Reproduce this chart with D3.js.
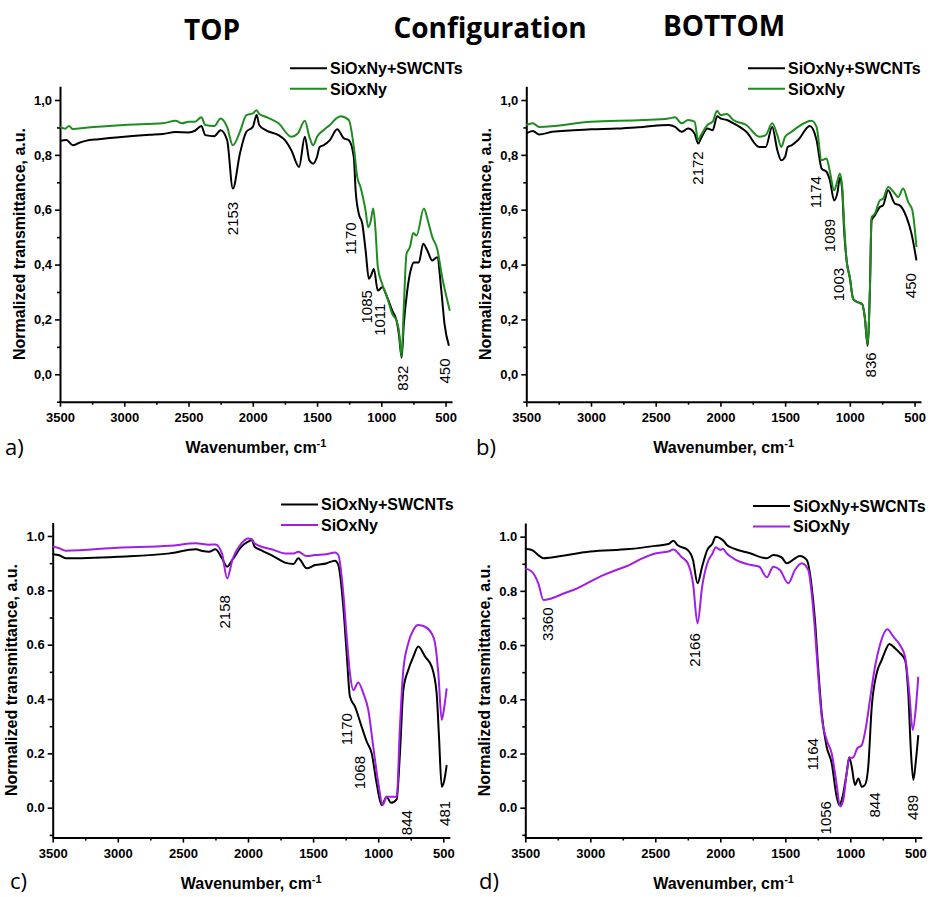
<!DOCTYPE html>
<html lang="en">
<head>
<meta charset="UTF-8">
<title>FTIR spectra, TOP / BOTTOM configuration</title>
<script src="https://cdnjs.cloudflare.com/ajax/libs/d3/7.8.5/d3.min.js"></script>
<style>
    body { margin: 0; background: #fff; }
    svg { display: block; font-family: "Liberation Sans", Arial, sans-serif; }
    .axis .domain { stroke: #000; stroke-width: 2px; }
    .axis line { stroke: #000; stroke-width: 1.6px; }
    .axis text { font-size: 13px; font-weight: bold; fill: #000; }
    .heading { font-family: "Open Sans", sans-serif; font-weight: bold; font-size: 28px; }
    .letter { font-family: "Open Sans", sans-serif; font-size: 22px; }
    .axis-title { font-size: 16px; font-weight: bold; }
    .legend text { font-size: 16px; font-weight: bold; }
    .peak { font-size: 15px; }
</style>
</head>
<body>
<svg id="chart" width="933" height="897"></svg>
<script>
    // ---- data ----
    const headings = ["TOP", "Configuration", "BOTTOM"];
    const seriesNames = ["SiOxNy+SWCNTs", "SiOxNy"];
    const panelLetters = ["a)", "b)", "c)", "d)"];
    const majorX = [3500, 3000, 2500, 2000, 1500, 1000, 500];
    const minorX = [3250, 2750, 2250, 1750, 1250, 750];
    const majorY = [0, 0.2, 0.4, 0.6, 0.8, 1.0];
    const minorY = [-0.1, 0.1, 0.3, 0.5, 0.7, 0.9];

    // spectra: [wavenumber cm-1, normalized transmittance]
    const topCompositeA = [[3500,0.851],[3450,0.854],[3400,0.835],[3350,0.844],[3300,0.851],[3200,0.857],[3000,0.866],[2800,0.873],[2700,0.876],[2600,0.883],[2500,0.882],[2450,0.888],[2400,0.905],[2370,0.872],[2300,0.868],[2250,0.890],[2200,0.854],[2155,0.677],[2100,0.805],[2050,0.884],[2000,0.902],[1970,0.945],[1950,0.909],[1900,0.890],[1800,0.872],[1750,0.854],[1700,0.817],[1640,0.756],[1595,0.866],[1560,0.780],[1530,0.768],[1500,0.793],[1480,0.829],[1450,0.835],[1400,0.854],[1343,0.893],[1291,0.860],[1253,0.854],[1214,0.792],[1200,0.671],[1175,0.585],[1148,0.549],[1122,0.451],[1097,0.348],[1080,0.360],[1058,0.384],[1027,0.305],[993,0.317],[954,0.280],[915,0.232],[881,0.195],[863,0.146],[842,0.061],[825,0.183],[798,0.305],[772,0.378],[747,0.408],[708,0.408],[674,0.476],[642,0.451],[603,0.415],[565,0.427],[533,0.305],[508,0.183],[474,0.104]];
    const topFilmA = [[3500,0.902],[3460,0.895],[3430,0.905],[3400,0.894],[3300,0.899],[3000,0.909],[2700,0.915],[2600,0.924],[2550,0.915],[2500,0.921],[2450,0.921],[2400,0.937],[2370,0.909],[2300,0.905],[2250,0.933],[2200,0.902],[2155,0.835],[2100,0.884],[2050,0.945],[2000,0.951],[1970,0.963],[1950,0.949],[1900,0.939],[1800,0.915],[1700,0.866],[1650,0.878],[1595,0.924],[1560,0.866],[1530,0.835],[1500,0.866],[1450,0.890],[1400,0.909],[1350,0.933],[1317,0.941],[1253,0.927],[1214,0.829],[1187,0.719],[1162,0.683],[1123,0.598],[1102,0.536],[1084,0.555],[1063,0.604],[1045,0.524],[1027,0.390],[993,0.329],[954,0.280],[915,0.220],[881,0.195],[863,0.159],[842,0.067],[825,0.244],[804,0.439],[778,0.463],[751,0.515],[726,0.506],[669,0.604],[638,0.561],[603,0.500],[565,0.457],[526,0.353],[467,0.232]];

    const bottomCompositeB = [[3500,0.878],[3450,0.887],[3400,0.874],[3300,0.884],[3000,0.893],[2800,0.896],[2600,0.902],[2400,0.909],[2350,0.902],[2300,0.884],[2250,0.896],[2200,0.878],[2172,0.841],[2150,0.860],[2100,0.896],[2060,0.890],[2025,0.941],[2000,0.933],[1950,0.927],[1900,0.915],[1800,0.884],[1700,0.829],[1650,0.829],[1600,0.902],[1560,0.817],[1530,0.780],[1500,0.793],[1480,0.829],[1450,0.835],[1400,0.854],[1309,0.905],[1257,0.854],[1218,0.750],[1180,0.738],[1154,0.707],[1121,0.634],[1095,0.664],[1077,0.717],[1059,0.671],[1044,0.524],[1025,0.415],[1000,0.353],[974,0.274],[936,0.262],[905,0.256],[884,0.207],[863,0.104],[845,0.305],[832,0.561],[807,0.579],[768,0.610],[743,0.616],[704,0.671],[652,0.622],[614,0.616],[562,0.573],[523,0.512],[485,0.415]];
    const bottomFilmB = [[3500,0.909],[3450,0.915],[3400,0.902],[3000,0.921],[2600,0.927],[2400,0.933],[2350,0.937],[2300,0.915],[2250,0.927],[2200,0.921],[2172,0.854],[2150,0.872],[2100,0.909],[2060,0.921],[2025,0.961],[2000,0.945],[1950,0.949],[1900,0.927],[1800,0.909],[1700,0.866],[1650,0.872],[1600,0.915],[1560,0.872],[1530,0.829],[1500,0.866],[1450,0.884],[1400,0.902],[1296,0.924],[1257,0.902],[1218,0.780],[1180,0.787],[1154,0.738],[1121,0.671],[1095,0.707],[1077,0.732],[1059,0.683],[1044,0.549],[1025,0.415],[1000,0.353],[974,0.274],[936,0.262],[905,0.256],[884,0.207],[863,0.110],[845,0.305],[832,0.573],[807,0.585],[768,0.634],[743,0.640],[704,0.683],[652,0.659],[627,0.646],[588,0.677],[549,0.628],[517,0.598],[485,0.464]];

    const topCompositeC = [[3500,0.933],[3450,0.929],[3400,0.918],[3000,0.924],[2600,0.936],[2400,0.951],[2350,0.945],[2300,0.942],[2250,0.951],[2200,0.918],[2160,0.887],[2120,0.912],[2050,0.961],[2000,0.979],[1970,0.985],[1950,0.961],[1900,0.948],[1800,0.924],[1716,0.902],[1650,0.897],[1614,0.918],[1549,0.881],[1485,0.893],[1400,0.899],[1332,0.909],[1306,0.893],[1268,0.740],[1242,0.568],[1217,0.409],[1178,0.372],[1127,0.298],[1088,0.243],[1050,0.200],[1012,0.090],[973,0.010],[935,0.040],[902,0.018],[858,0.031],[833,0.200],[807,0.433],[769,0.507],[730,0.556],[692,0.593],[640,0.556],[589,0.519],[551,0.421],[533,0.261],[512,0.077],[492,0.102],[474,0.157]];
    const topFilmC = [[3500,0.961],[3450,0.955],[3400,0.946],[3000,0.957],[2600,0.964],[2400,0.973],[2300,0.968],[2250,0.969],[2200,0.936],[2160,0.844],[2120,0.912],[2050,0.973],[2000,0.991],[1970,0.988],[1950,0.973],[1800,0.948],[1716,0.936],[1650,0.936],[1614,0.942],[1549,0.926],[1485,0.930],[1400,0.933],[1332,0.939],[1306,0.930],[1268,0.789],[1242,0.630],[1217,0.495],[1191,0.433],[1153,0.461],[1114,0.421],[1076,0.360],[1038,0.225],[999,0.090],[965,0.010],[935,0.040],[896,0.040],[858,0.040],[833,0.298],[807,0.507],[769,0.605],[730,0.654],[692,0.672],[640,0.666],[589,0.641],[563,0.605],[538,0.495],[512,0.323],[492,0.372],[474,0.439]];

    const bottomCompositeD = [[3500,0.954],[3450,0.951],[3400,0.932],[3360,0.920],[3300,0.923],[3000,0.945],[2700,0.954],[2500,0.966],[2400,0.973],[2360,0.985],[2330,0.969],[2250,0.951],[2210,0.914],[2175,0.828],[2140,0.889],[2100,0.951],[2060,0.975],[2035,1.000],[2000,0.994],[1970,0.982],[1950,0.969],[1900,0.957],[1772,0.939],[1643,0.920],[1592,0.932],[1530,0.924],[1489,0.902],[1387,0.929],[1335,0.914],[1297,0.815],[1272,0.693],[1246,0.508],[1220,0.348],[1182,0.225],[1143,0.164],[1105,0.041],[1085,0.010],[1059,0.041],[1028,0.127],[1008,0.186],[989,0.151],[964,0.084],[938,0.108],[912,0.077],[887,0.084],[862,0.151],[835,0.373],[797,0.496],[758,0.545],[733,0.576],[700,0.604],[656,0.588],[618,0.570],[579,0.545],[554,0.422],[533,0.201],[515,0.102],[495,0.176],[477,0.268]];
    const bottomFilmD = [[3500,0.883],[3450,0.871],[3400,0.828],[3360,0.766],[3300,0.772],[3200,0.791],[3100,0.809],[3000,0.834],[2900,0.858],[2800,0.877],[2700,0.895],[2600,0.920],[2500,0.938],[2400,0.945],[2360,0.953],[2300,0.926],[2250,0.902],[2210,0.828],[2175,0.680],[2140,0.815],[2100,0.902],[2060,0.938],[2035,0.961],[2000,0.951],[1980,0.955],[1950,0.938],[1900,0.920],[1772,0.896],[1700,0.889],[1643,0.850],[1592,0.889],[1541,0.877],[1477,0.828],[1426,0.877],[1374,0.902],[1323,0.877],[1297,0.791],[1272,0.656],[1246,0.483],[1220,0.336],[1182,0.250],[1143,0.200],[1110,0.102],[1077,0.004],[1054,0.028],[1028,0.127],[1008,0.182],[977,0.186],[946,0.219],[912,0.231],[879,0.299],[849,0.397],[810,0.520],[772,0.600],[715,0.658],[669,0.631],[618,0.600],[579,0.557],[546,0.422],[520,0.287],[495,0.373],[477,0.483]];

    // peak labels: [text, wavenumber where it sits, transmittance of text centre]
    const peaksA = [["2153",2158,0.568],["1170",1239,0.495],["1085",1115,0.246],["1011",1014,0.199],["832",835,-0.014],["450",510,0.012]];
    const peaksB = [["2172",2174,0.752],["1174",1260,0.664],["1089",1157,0.506],["1003",1085,0.327],["836",835,0.034],["450",526,0.323]];
    const peaksC = [["2158",2177,0.721],["1170",1242,0.289],["1068",1140,0.129],["844",777,-0.055],["481",487,-0.021]];
    const peaksD = [["3360",3331,0.677],["2166",2197,0.582],["1164",1287,0.197],["1056",1189,-0.037],["844",812,0.010],["489",518,0.001]];

    // ---- layout ----
    const green = "#1f8c1f", purple = "#a21ee6";
    const panels = [
        {letter: panelLetters[0], left: 60, right: 452, top: 86.3, bottom: 401.7, yMin: -0.1, comma: true,
         color: green, black: topCompositeA, film: topFilmA, peaks: peaksA, legendX: 290, legendY: 68.3, letterX: 5, letterY: 455},
        {letter: panelLetters[1], left: 526.3, right: 921, top: 86.3, bottom: 401.7, yMin: -0.1, comma: true,
         color: green, black: bottomCompositeB, film: bottomFilmB, peaks: peaksB, legendX: 748, legendY: 68.3, letterX: 476, letterY: 455},
        {letter: panelLetters[2], left: 52.7, right: 449.8, top: 522.4, bottom: 837.6, yMin: -0.11, comma: false,
         color: purple, black: topCompositeC, film: topFilmC, peaks: peaksC, legendX: 281, legendY: 504.5, letterX: 10, letterY: 889},
        {letter: panelLetters[3], left: 525.3, right: 921.8, top: 523.1, bottom: 837.5, yMin: -0.11, comma: false,
         color: purple, black: bottomCompositeD, film: bottomFilmD, peaks: peaksD, legendX: 753, legendY: 506, letterX: 479, letterY: 889}
    ];

    const svg = d3.select("#chart");
    svg.append("rect").attr("width", 933).attr("height", 897).attr("fill", "#fff");

    svg.selectAll(".heading")
        .data(headings)
        .enter()
        .append("text")
        .attr("class", "heading")
        .attr("text-anchor", "middle")
        .attr("x", (d, i) => [212, 490, 724][i])
        .attr("y", (d, i) => [40, 38, 36][i])
        .text(d => d);

    function drawPanel(p) {
        const x = d3.scaleLinear().domain([3500, 450]).range([p.left, p.right]);
        const y = d3.scaleLinear().domain([p.yMin, 1.05]).range([p.bottom, p.top]);
        const fmt = v => {
            const s = d3.format(".1f")(v);
            return p.comma ? s.replace(".", ",") : s;
        };
        const g = svg.append("g");

        // minor ticks first, then main axes on top
        g.append("g").attr("class", "axis").attr("transform", `translate(0,${p.bottom})`)
            .call(d3.axisBottom(x).tickValues(minorX).tickSize(3).tickFormat(""))
            .select(".domain").remove();
        g.append("g").attr("class", "axis").attr("transform", `translate(${p.left},0)`)
            .call(d3.axisLeft(y).tickValues(minorY).tickSize(3).tickFormat(""))
            .select(".domain").remove();

        g.append("g").attr("class", "axis").attr("transform", `translate(0,${p.bottom})`)
            .call(d3.axisBottom(x).tickValues(majorX).tickSize(5).tickSizeOuter(0)
                .tickPadding(6).tickFormat(d3.format("d")));
        g.append("g").attr("class", "axis").attr("transform", `translate(${p.left},0)`)
            .call(d3.axisLeft(y).tickValues(majorY).tickSize(5).tickSizeOuter(0)
                .tickPadding(3).tickFormat(fmt));

        // axis titles
        const xt = g.append("text").attr("class", "axis-title")
            .attr("text-anchor", "middle")
            .attr("x", (p.left + p.right) / 2)
            .attr("y", p.bottom + 51);
        xt.append("tspan").text("Wavenumber, cm");
        xt.append("tspan").attr("dy", -6).attr("font-size", "11px").text("-1");

        g.append("text").attr("class", "axis-title")
            .attr("text-anchor", "middle")
            .attr("transform", `translate(${p.left - 41},${(p.top + p.bottom) / 2}) rotate(-90)`)
            .attr("dy", "0.35em")
            .text("Normalized transmittance, a.u.");

        // spectra
        const line = d3.line()
            .x(d => x(d[0]))
            .y(d => y(d[1]))
            .curve(d3.curveMonotoneX);
        g.append("path").datum(p.black)
            .attr("d", line).attr("fill", "none")
            .attr("stroke", "#000").attr("stroke-width", 2).attr("stroke-linejoin", "round");
        g.append("path").datum(p.film)
            .attr("d", line).attr("fill", "none")
            .attr("stroke", p.color).attr("stroke-width", 2).attr("stroke-linejoin", "round");

        // peak labels
        g.selectAll(".peak")
            .data(p.peaks)
            .enter()
            .append("text")
            .attr("class", "peak")
            .attr("text-anchor", "middle")
            .attr("dy", "0.35em")
            .attr("transform", d => `translate(${x(d[1])},${y(d[2])}) rotate(-90)`)
            .text(d => d[0]);

        // legend
        const legend = g.append("g").attr("class", "legend");
        [["#000", seriesNames[0]], [p.color, seriesNames[1]]].forEach((item, i) => {
            const ly = p.legendY + i * 20.5;
            legend.append("line")
                .attr("x1", p.legendX).attr("x2", p.legendX + 37)
                .attr("y1", ly).attr("y2", ly)
                .attr("stroke", item[0]).attr("stroke-width", 2);
            legend.append("text")
                .attr("x", p.legendX + 40).attr("y", ly)
                .attr("dy", "0.36em")
                .text(item[1]);
        });

        svg.append("text").attr("class", "letter")
            .attr("x", p.letterX).attr("y", p.letterY)
            .text(p.letter);
    }

    panels.forEach(drawPanel);
</script>
</body>
</html>
